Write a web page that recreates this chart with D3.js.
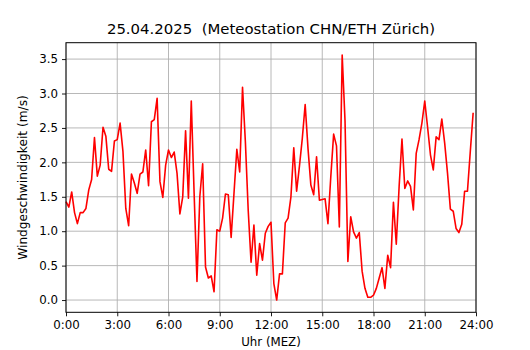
<!DOCTYPE html>
<html>
<head>
<meta charset="utf-8">
<script src="https://cdn.jsdelivr.net/npm/d3@7"></script>
<style>
  body { margin: 0; background: #fff; }
  text { font-family: "DejaVu Sans", sans-serif; fill: #000; }
</style>
</head>
<body>
<svg id="chart" width="530" height="350"></svg>
<script>
// wind speed (m/s), one value every 10 minutes from 0:00
const windSpeed = [
  1.43, 1.35, 1.57, 1.27, 1.11, 1.27, 1.27, 1.33, 1.60, 1.75, 2.36, 1.80,
  1.96, 2.51, 2.38, 1.90, 1.87, 2.31, 2.33, 2.57, 2.16, 1.33, 1.08, 1.83,
  1.70, 1.55, 1.83, 1.86, 2.18, 1.66, 2.59, 2.62, 2.93, 1.72, 1.49, 1.96,
  2.18, 2.07, 2.15, 1.84, 1.25, 1.50, 2.46, 1.48, 2.89, 1.55, 0.27, 1.50,
  1.98, 0.48, 0.32, 0.35, 0.12, 1.02, 1.00, 1.19, 1.54, 1.53, 0.91, 1.55,
  2.19, 1.86, 3.09, 2.30, 1.30, 0.55, 1.09, 0.36, 0.82, 0.58, 0.97, 1.07,
  1.13, 0.24, 0.00, 0.38, 0.38, 1.12, 1.19, 1.50, 2.21, 1.58, 1.95, 2.35,
  2.84, 2.20, 1.67, 1.53, 2.08, 1.45, 1.46, 1.47, 1.11, 1.79, 2.41, 2.24,
  1.06, 3.56, 2.60, 0.56, 1.21, 0.99, 0.90, 0.98, 0.42, 0.17, 0.04, 0.04,
  0.07, 0.17, 0.32, 0.47, 0.17, 0.65, 0.47, 1.42, 0.81, 1.65, 2.34, 1.62,
  1.73, 1.65, 1.31, 2.13, 2.33, 2.57, 2.89, 2.51, 2.11, 1.89, 2.37, 2.33,
  2.63, 2.28, 1.84, 1.32, 1.29, 1.04, 0.98, 1.10, 1.58, 1.58, 2.16, 2.72
];
const stepMinutes = 10;
const hourTicks = [0, 3, 6, 9, 12, 15, 18, 21, 24];
const speedTicks = [0.0, 0.5, 1.0, 1.5, 2.0, 2.5, 3.0, 3.5];
const titleText = "25.04.2025  (Meteostation CHN/ETH Zürich)";
const xLabel = "Uhr (MEZ)";
const yLabel = "Windgeschwindigkeit (m/s)";

const width = 530, height = 350;
const margin = { top: 42.7, right: 54, bottom: 37.7, left: 66 };
const innerW = width - margin.left - margin.right;
const innerH = height - margin.top - margin.bottom;

const svg = d3.select("#chart");
const g = svg.append("g").attr("transform", `translate(${margin.left},${margin.top})`);

const points = windSpeed.map((v, i) => ({ h: (i * stepMinutes) / 60, v }));

const x = d3.scaleLinear().domain([0, 24]).range([0, innerW]);

// matplotlib style 5% padding around data
const [vmin, vmax] = d3.extent(windSpeed);
const pad = (vmax - vmin) * 0.05;
const y = d3.scaleLinear().domain([vmin - pad, vmax + pad]).range([innerH, 0]);

// grid
g.append("g")
  .selectAll("line.vgrid")
  .data(hourTicks)
  .enter()
  .append("line")
  .attr("x1", (d) => x(d))
  .attr("x2", (d) => x(d))
  .attr("y1", 0)
  .attr("y2", innerH)
  .attr("stroke", "#b0b0b0")
  .attr("stroke-width", 0.9);

g.append("g")
  .selectAll("line.hgrid")
  .data(speedTicks)
  .enter()
  .append("line")
  .attr("x1", 0)
  .attr("x2", innerW)
  .attr("y1", (d) => y(d))
  .attr("y2", (d) => y(d))
  .attr("stroke", "#b0b0b0")
  .attr("stroke-width", 0.9);

// line
const line = d3.line().x((d) => x(d.h)).y((d) => y(d.v));
g.append("path")
  .datum(points)
  .attr("fill", "none")
  .attr("stroke", "#ff0000")
  .attr("stroke-width", 1.6)
  .attr("stroke-linejoin", "round")
  .attr("d", line);

// axes
const xAxis = d3
  .axisBottom(x)
  .tickValues(hourTicks)
  .tickFormat((d) => `${d}:00`)
  .tickSizeInner(4)
  .tickSizeOuter(0)
  .tickPadding(4);

const yAxis = d3
  .axisLeft(y)
  .tickValues(speedTicks)
  .tickFormat(d3.format(".1f"))
  .tickSizeInner(4)
  .tickSizeOuter(0)
  .tickPadding(4);

const gx = g.append("g").attr("transform", `translate(0,${innerH})`).call(xAxis);
const gy = g.append("g").call(yAxis);

[gx, gy].forEach((ax) => {
  ax.select(".domain").remove();
  ax.selectAll(".tick line").attr("stroke", "#000").attr("stroke-width", 0.9);
  ax.selectAll(".tick text")
    .attr("font-family", "DejaVu Sans, sans-serif")
    .attr("font-size", 11.8)
    .attr("fill", "#000");
});

// frame
g.append("rect")
  .attr("x", 0)
  .attr("y", 0)
  .attr("width", innerW)
  .attr("height", innerH)
  .attr("fill", "none")
  .attr("stroke", "#000")
  .attr("stroke-width", 1);

// labels
svg.append("text")
  .attr("x", margin.left + innerW / 2)
  .attr("y", 34)
  .attr("text-anchor", "middle")
  .attr("font-size", 14.9)
  .style("white-space", "pre")
  .attr("xml:space", "preserve")
  .text(titleText);

svg.append("text")
  .attr("x", margin.left + innerW / 2)
  .attr("y", 346)
  .attr("text-anchor", "middle")
  .attr("font-size", 11.8)
  .text(xLabel);

svg.append("text")
  .attr("transform", `translate(27,${margin.top + innerH / 2}) rotate(-90)`)
  .attr("text-anchor", "middle")
  .attr("font-size", 12.2)
  .text(yLabel);
</script>
</body>
</html>
